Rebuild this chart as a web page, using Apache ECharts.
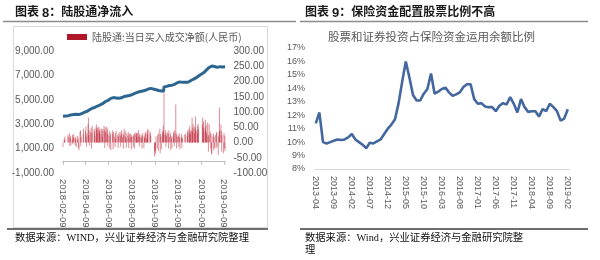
<!DOCTYPE html>
<html><head><meta charset="utf-8">
<script src="https://cdn.jsdelivr.net/npm/echarts@6/dist/echarts.min.js"></script>
<style>html,body{margin:0;padding:0;background:#fff}#c{width:600px;height:260px}</style>
</head><body><div id="c"></div>
<script>
// ---------- Left chart: 陆股通净流入 ----------
const flowStart = '2018-02-09';           // first trading day shown (Fri)
// daily net buy (right axis), one value per weekday from flowStart (holidays = 0)
const dailyNetBuy = [
  -15,
  12, 8, 20, 0, 0,     0, 0, 0, 25, 18,     30, -12, 15, 22, -8,   10, 25, -6, 18, 28,
  15, -10, 12, 20, -15, 8, 22, 14, -18, -25, 35, 40, -12, 18, 0,   0, 28, 45, 0, 0,
  38, 52, 20, -14, 30,  60, 82, 25, 40, -10,  35, 48, -20, 30, 55,  0, 0, 45, 38, 22,
  50, 59, 42, 30, 48,   52, 40, 35, 45, 28,   46, 0, 38, 20, 44,    55, 40, -18, 50, 35,
  52, 30, 45, -12, 25,  38, -20, 22, 30, -25, 0, 40, 28, -22, 35,   18, -15, 30, 12, 38,
  0, 25, -18, 20, 30,   35, 22, -14, 28, 40,  18, 30, -20, 25, 45,  38, 20, 12, -16, 30,
  22, 35, -18, 15, 28,  30, 18, -22, 25, 20,  -15, 22, 28, -20, 30, 33, 25, 30, 18, 32,
  40, 20, -12, 28, 18,  25, 15, -20, 22, 30,  -18, 20, 15, 28, 35,  12, 30, 40, 25, 45,
  0, 0, 38, 30, 22,     0, 0, 0, 0, 0,        -46, -30, -25, -38, 20, -20, 25, 0, -28, 30,
  45, -35, 28, 20, -22, 30, 40, 55, 35, 180,  25, 40, -15, 30, 22,  35, 28, -20, 40, 18,
  30, -25, 22, 15, -18, 20, 35, 28, -12, 40,  125, 30, -20, 25, 18, 22, -15, 30, 18, -22,
  15, 28, -18, 20, 12,  0, 0, 0, 25, 30,      0, 0, 22, 35, 40,     45, 30, 55, 28, 38,
  40, 82, 35, 48, 60,   30, 52, 45, 85, 40,   38, 55, 28, 62, 45,   0, 0, 0, 0, 0,
  60, 82, 48, 70, 35,   50, 75, 40, 58, 30,   65, 20, -30, 25, 60,  35, -20, 28, -35, -40,
  22, 30, -25, 18, -18, 25, -20, 35, 30, -15, -40, 20, 35, 115, 40, 60, 38, -30, 25, 0,
  -35, 30, -20, 22, -28
];
// cumulative net inflow (left axis)
const cumDates = ['2018-02-09','2018-02-23','2018-03-02','2018-03-09','2018-03-16','2018-03-23','2018-03-30','2018-04-06','2018-04-13','2018-04-20','2018-04-27','2018-05-04','2018-05-11','2018-05-18','2018-05-25','2018-06-01','2018-06-08','2018-06-15','2018-06-22','2018-06-29','2018-07-06','2018-07-13','2018-07-20','2018-07-27','2018-08-03','2018-08-10','2018-08-17','2018-08-24','2018-08-31','2018-09-07','2018-09-14','2018-09-21','2018-09-28','2018-10-12','2018-10-19','2018-10-26','2018-11-01','2018-11-02','2018-11-09','2018-11-16','2018-11-23','2018-11-30','2018-12-07','2018-12-14','2018-12-21','2018-12-28','2019-01-04','2019-01-11','2019-01-18','2019-01-25','2019-02-01','2019-02-15','2019-02-22','2019-03-01','2019-03-08','2019-03-15','2019-03-22','2019-03-29','2019-04-04','2019-04-12'];
const cumValues = [3650,3700,3760,3800,3820,3790,3870,3960,4050,4180,4310,4380,4490,4580,4700,4860,4960,5120,5180,5150,5120,5160,5270,5310,5350,5430,5530,5610,5680,5720,5780,5870,5940,5820,5760,5730,5720,6060,6100,6170,6200,6270,6400,6470,6430,6440,6440,6560,6680,6790,6950,7230,7450,7650,7770,7730,7660,7720,7690,7710];
const leftTickDates = ['2018-02-09','2018-04-09','2018-06-09','2018-08-09','2018-10-09','2018-12-09','2019-02-09','2019-04-09'];
const leftAxisMin = '2018-02-09', leftAxisMax = '2019-04-13';

// ---------- Right chart: 保险资金股票比例 ----------
const ratioMonths = ['2013-04','2013-05','2013-06','2013-07','2013-08','2013-09','2013-10','2013-11','2013-12',
 '2014-01','2014-02','2014-03','2014-04','2014-05','2014-06','2014-07','2014-08','2014-09','2014-10','2014-11','2014-12',
 '2015-01','2015-02','2015-03','2015-04','2015-05','2015-06','2015-07','2015-08','2015-09','2015-10','2015-11','2015-12',
 '2016-01','2016-02','2016-03','2016-04','2016-05','2016-06','2016-07','2016-08','2016-09','2016-10','2016-11','2016-12',
 '2017-01','2017-02','2017-03','2017-04','2017-05','2017-06','2017-07','2017-08','2017-09','2017-10','2017-11','2017-12',
 '2018-01','2018-02','2018-03','2018-04','2018-05','2018-06','2018-07','2018-08','2018-09','2018-10','2018-11','2018-12',
 '2019-01','2019-02'];
const ratioValues = [11.4,12.2,10.0,9.9,10.0,10.1,10.2,10.15,10.2,
 10.35,10.6,10.2,10.0,9.8,9.55,9.95,9.9,10.05,10.2,10.6,11.0,
 11.3,11.7,12.9,14.5,16.0,14.8,13.5,13.1,13.1,13.6,13.95,15.1,
 13.6,13.75,13.95,14.05,13.7,13.45,13.55,13.7,14.1,14.3,14.3,13.2,
 12.85,12.9,12.65,12.6,12.6,12.3,12.7,12.9,12.8,13.35,12.85,12.2,
 13.2,12.6,12.25,12.3,12.3,11.9,12.45,12.3,12.85,12.6,12.3,11.6,
 11.75,12.45];

// ---------- helpers ----------
function ts(s){ const p = s.split('-').map(Number); return new Date(p[0], p[1]-1, p[2]).getTime(); }
function weekdayDates(start, n){
  const out = []; const d = new Date(ts(start));
  while (out.length < n){ const w = d.getDay(); if (w !== 0 && w !== 6) out.push(d.getTime()); d.setDate(d.getDate()+1); }
  return out;
}
function pad(n){ return n < 10 ? '0'+n : ''+n; }
function fmtDate(v){ const d = new Date(v); return d.getFullYear()+'-'+pad(d.getMonth()+1)+'-'+pad(d.getDate()); }
function fmtNum(v){ return Number(v).toLocaleString('en-US',{minimumFractionDigits:2, maximumFractionDigits:2}); }

const flowDates = weekdayDates(flowStart, dailyNetBuy.length);
const barData = flowDates.map((t,i)=>[t, dailyNetBuy[i]]);
const lineData = cumDates.map((d,i)=>[ts(d), cumValues[i]]);
const tickTs = leftTickDates.map(ts);

const FONT = "'Liberation Sans', Arial, 'Noto Sans CJK SC', sans-serif";
const CJK = "'Noto Sans CJK SC', 'Liberation Sans', sans-serif";
const SERIF = "'Liberation Serif', 'Noto Sans CJK SC', serif";
const grey = '#595959';

const chart = echarts.init(document.getElementById('c'), null, {renderer:'canvas'});
chart.setOption({
  animation: false,
  backgroundColor: '#fff',
  textStyle: {fontFamily: FONT},
  title: {
    text: '股票和证券投资占保险资金运用余额比例',
    left: 328, top: 31, padding: 0,
    textStyle: {fontSize: 11.5, fontWeight: 'normal', color: grey, fontFamily: CJK}
  },
  legend: {
    data: [{name: '陆股通:当日买入成交净额(人民币)', itemStyle: {color: '#B0182A'}}],
    left: 67, top: 32, padding: 0,
    itemWidth: 20, itemHeight: 6, itemGap: 4, icon: 'rect',
    textStyle: {fontSize: 10, color: grey, fontFamily: CJK}
  },
  grid: [
    {left: 63, top: 51, width: 162.5, height: 122, outerBoundsMode: 'none', containLabel: false},
    {left: 314, top: 48, width: 255.6, height: 121, outerBoundsMode: 'none', containLabel: false}
  ],
  xAxis: [
    {
      type: 'value', gridIndex: 0, min: ts(leftAxisMin), max: ts(leftAxisMax), scale: true,
      axisLine: {onZero: true, lineStyle: {color: '#bfbfbf', width: 1}},
      axisTick: {show: true, customValues: tickTs, length: 4, lineStyle: {color: '#bfbfbf'}},
      axisLabel: {customValues: tickTs, rotate: -90, fontSize: 9.5, color: grey, margin: 6,
                  hideOverlap: false, formatter: v => fmtDate(v)},
      splitLine: {show: false}
    },
    {
      type: 'category', gridIndex: 1, data: ratioMonths, boundaryGap: true,
      axisLine: {lineStyle: {color: '#d9d9d9', width: 1}},
      axisTick: {show: false},
      axisLabel: {interval: 4, rotate: -90, fontSize: 9, color: grey, margin: 7, hideOverlap: false},
      splitLine: {show: false}
    }
  ],
  yAxis: [
    {
      type: 'value', gridIndex: 0, min: -1000, max: 9000, interval: 1000,
      axisLine: {show: false}, axisTick: {show: false}, splitLine: {show: false},
      axisLabel: {fontSize: 10, color: grey, margin: 9, hideOverlap: false,
                  formatter: v => (Math.abs(Math.round(v/1000)) % 2 === 1) ? fmtNum(v) : ''}
    },
    {
      type: 'value', gridIndex: 0, position: 'right', min: -100, max: 300, interval: 50,
      axisLine: {show: false}, axisTick: {show: false}, splitLine: {show: false},
      axisLabel: {fontSize: 10, color: grey, margin: 8, hideOverlap: false, formatter: v => Number(v).toFixed(2)}
    },
    {
      type: 'value', gridIndex: 1, min: 8, max: 17, interval: 1,
      axisLine: {show: false}, axisTick: {show: false}, splitLine: {show: false},
      axisLabel: {fontSize: 9, color: grey, margin: 9, hideOverlap: false, formatter: '{value}%'}
    }
  ],
  series: [
    {
      name: '陆股通:当日买入成交净额(人民币)', type: 'bar', xAxisIndex: 0, yAxisIndex: 1,
      data: barData, barWidth: 0.55, itemStyle: {color: 'rgba(190,30,50,0.5)'}, z: 1
    },
    {
      name: 'cum', type: 'line', xAxisIndex: 0, yAxisIndex: 0, data: lineData,
      showSymbol: false, symbol: 'none', lineStyle: {width: 3, color: '#2C6690'}, z: 3
    },
    {
      name: 'ratio', type: 'line', xAxisIndex: 1, yAxisIndex: 2, data: ratioValues,
      showSymbol: false, symbol: 'none', lineStyle: {width: 2.6, color: '#43679E'}, z: 3
    }
  ],
  graphic: [
    {type: 'rect', shape: {x: 13.5, y: 26.5, width: 254, height: 201}, style: {fill: 'none', stroke: '#d9d9d9', lineWidth: 1}, z: -1},
    {type: 'line', shape: {x1: 3, y1: 21.5, x2: 296, y2: 21.5}, style: {stroke: '#8c8c8c', lineWidth: 1.5}},
    {type: 'line', shape: {x1: 300, y1: 21.5, x2: 588, y2: 21.5}, style: {stroke: '#8c8c8c', lineWidth: 1.5}},
    {type: 'line', shape: {x1: 7, y1: 229, x2: 268, y2: 229}, style: {stroke: '#6e6e6e', lineWidth: 2}},
    {type: 'line', shape: {x1: 300, y1: 229, x2: 588, y2: 229}, style: {stroke: '#6e6e6e', lineWidth: 2}},
    {type: 'text', x: 15, y: 13, style: {text: '{a|图表 }{b|8}{a|：陆股通净流入}', verticalAlign: 'middle',
      rich: {a: {fontSize: 12, fontWeight: 'bold', fill: '#1a1a1a', fontFamily: SERIF},
             b: {fontSize: 13, fontWeight: 'bold', fill: '#1a1a1a', fontFamily: FONT}}}},
    {type: 'text', x: 305, y: 13, style: {text: '{a|图表 }{b|9}{a|：保险资金配置股票比例不高}', verticalAlign: 'middle',
      rich: {a: {fontSize: 12, fontWeight: 'bold', fill: '#1a1a1a', fontFamily: SERIF},
             b: {fontSize: 13, fontWeight: 'bold', fill: '#1a1a1a', fontFamily: FONT}}}},
    {type: 'text', x: 15, y: 238.5, style: {text: '数据来源：WIND，兴业证券经济与金融研究院整理', verticalAlign: 'middle',
      fontSize: 10.3, fill: '#111', fontFamily: SERIF}},
    {type: 'text', x: 305, y: 238, style: {text: '数据来源：Wind，兴业证券经济与金融研究院整', verticalAlign: 'middle',
      fontSize: 10.3, fill: '#111', fontFamily: SERIF}},
    {type: 'text', x: 305, y: 250, style: {text: '理', verticalAlign: 'middle',
      fontSize: 10.3, fill: '#111', fontFamily: SERIF}}
  ]
});
</script>
</body></html>
